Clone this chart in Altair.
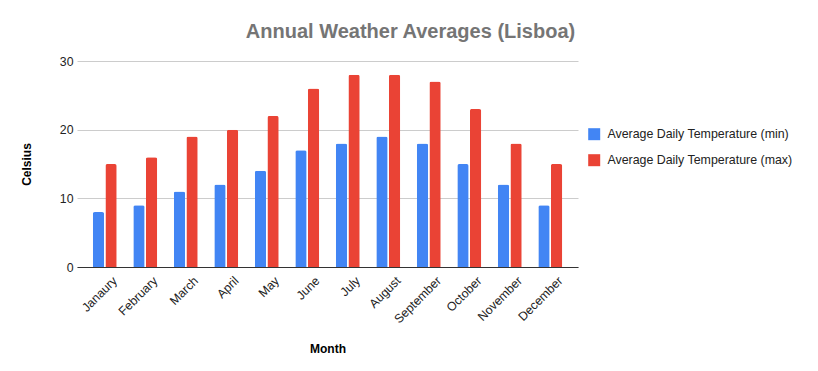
import altair as alt
import pandas as pd

months = ["Janaury", "February", "March", "April", "May", "June", "July",
          "August", "September", "October", "November", "December"]
temp_min = [8, 9, 11, 12, 14, 17, 18, 19, 18, 15, 12, 9]
temp_max = [15, 16, 19, 20, 22, 26, 28, 28, 27, 23, 18, 15]
series = ["Average Daily Temperature (min)", "Average Daily Temperature (max)"]
colors = ["#4285F4", "#EA4335"]

rows = []
for m, a, b in zip(months, temp_min, temp_max):
    rows.append({"Month": m, "Series": series[0], "Value": a})
    rows.append({"Month": m, "Series": series[1], "Value": b})
df = pd.DataFrame(rows)

FONT = "Liberation Sans"

chart = alt.Chart(df).mark_bar(
    cornerRadiusTopLeft=2, cornerRadiusTopRight=2
).encode(
    x=alt.X("Month:N", sort=months,
            scale=alt.Scale(paddingInner=0.41, paddingOuter=0.39),
            axis=alt.Axis(title="Month", labelAngle=-45, labelAlign="right",
                          labelBaseline="top", ticks=False, labelPadding=7,
                          labelOffset=6,
                          domainColor="#333333", labelColor="#222222",
                          labelFontSize=12.3, titleFontSize=12, titleFontWeight="bold",
                          titlePadding=18, titleColor="#000000")),
    xOffset=alt.XOffset("Series:N", sort=series,
                        scale=alt.Scale(paddingInner=0.1, paddingOuter=0)),
    y=alt.Y("Value:Q", scale=alt.Scale(domain=[0, 30]),
            axis=alt.Axis(title="Celsius", values=[0, 10, 20, 30], ticks=False,
                          domain=False, gridColor="#cccccc", labelPadding=4,
                          labelColor="#222222", labelFontSize=12.3, titleFontSize=12,
                          titleFontWeight="bold", titlePadding=26, titleColor="#000000")),
    color=alt.Color("Series:N", sort=series,
                    scale=alt.Scale(domain=series, range=colors),
                    legend=alt.Legend(title=None, orient="none", legendX=511, legendY=67,
                                      symbolType="square", symbolSize=144,
                                      symbolStrokeWidth=0, labelFontSize=12.4,
                                      labelColor="#222222", rowPadding=13,
                                      labelOffset=7, labelLimit=0)),
).properties(
    width=501, height=206,
    title=alt.TitleParams("Annual Weather Averages (Lisboa)", fontSize=20,
                          font=FONT, color="#757575", fontWeight="bold",
                          dx=83, offset=13),
    autosize=alt.AutoSizeParams(type="none"),
    padding={"left": 69, "top": 53, "right": 232, "bottom": 96},
).configure(font=FONT).configure_view(stroke=None)

chart.save("out.html", embed_options={"renderer": "svg", "actions": False})
